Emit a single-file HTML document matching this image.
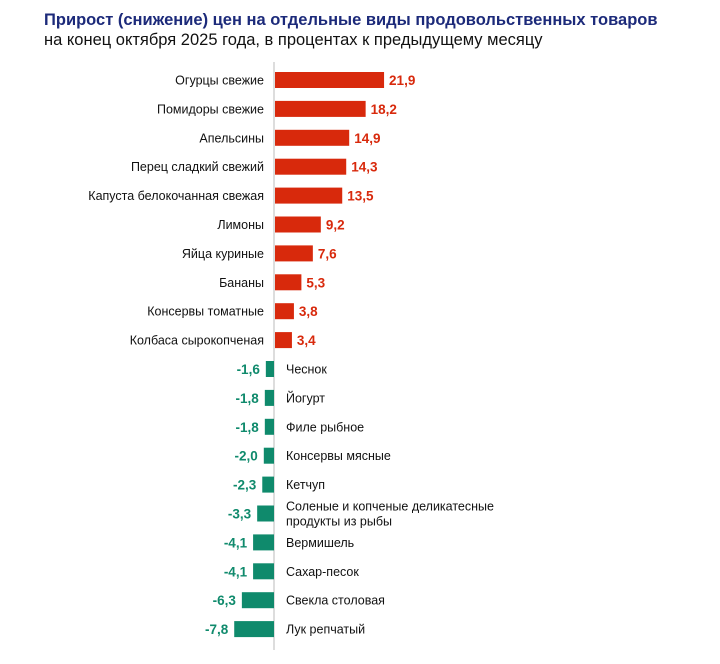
<!DOCTYPE html>
<html><head><meta charset="utf-8"><style>
body{margin:0;background:#fff;width:720px;height:659px;overflow:hidden;font-family:"Liberation Sans",Arial,sans-serif}
</style></head><body>
<svg width="720" height="659" xmlns="http://www.w3.org/2000/svg" font-family="Liberation Sans, Arial, sans-serif">
<text x="44" y="25" font-size="16.5" font-weight="bold" fill="#1c2a7a">Прирост (снижение) цен на отдельные виды продовольственных товаров</text>
<text x="44" y="45" font-size="16.5" fill="#111">на конец октября 2025 года, в процентах к предыдущему месяцу</text>
<line x1="274" y1="62" x2="274" y2="650" stroke="#bbb" stroke-width="1"/>
<g id="c"></g>
</svg>
<script>
var d=[["Огурцы свежие",21.9],["Помидоры свежие",18.2],["Апельсины",14.9],["Перец сладкий свежий",14.3],["Капуста белокочанная свежая",13.5],["Лимоны",9.2],["Яйца куриные",7.6],["Бананы",5.3],["Консервы томатные",3.8],["Колбаса сырокопченая",3.4],["Чеснок",-1.6],["Йогурт",-1.8],["Филе рыбное",-1.8],["Консервы мясные",-2.0],["Кетчуп",-2.3],["Соленые и копченые деликатесные|продукты из рыбы",-3.3],["Вермишель",-4.1],["Сахар-песок",-4.1],["Свекла столовая",-6.3],["Лук репчатый",-7.8]];
var g=document.getElementById('c'),s='',z=274,k=4.98;
d.forEach(function(r,i){var cy=80+i*28.9,v=r[1],w=Math.abs(v)*k,val=v.toFixed(1).replace('.',',');
if(v>0){s+='<rect x="'+(z+1)+'" y="'+(cy-8)+'" width="'+w+'" height="16" fill="#d8290c"/>';
s+='<text x="'+(z+w+6)+'" y="'+(cy+5)+'" font-size="13.5" font-weight="bold" fill="#d8290c">'+val+'</text>';
s+='<text x="'+(z-10)+'" y="'+(cy+4.5)+'" font-size="12.5" text-anchor="end" fill="#111">'+r[0]+'</text>';}
else{w=Math.abs(v)*5.1;s+='<rect x="'+(z-w)+'" y="'+(cy-8)+'" width="'+w+'" height="16" fill="#0f8a6c"/>';
s+='<text x="'+(z-w-6)+'" y="'+(cy+5)+'" font-size="13.5" font-weight="bold" fill="#0f8a6c" text-anchor="end">'+val+'</text>';
var p=r[0].split('|');if(p.length>1){s+='<text x="286" y="'+(cy-3)+'" font-size="12.5" fill="#111">'+p[0]+'</text><text x="286" y="'+(cy+12)+'" font-size="12.5" fill="#111">'+p[1]+'</text>';}
else s+='<text x="286" y="'+(cy+4.5)+'" font-size="12.5" fill="#111">'+p[0]+'</text>';}
});g.innerHTML=s;
</script>
</body></html>
